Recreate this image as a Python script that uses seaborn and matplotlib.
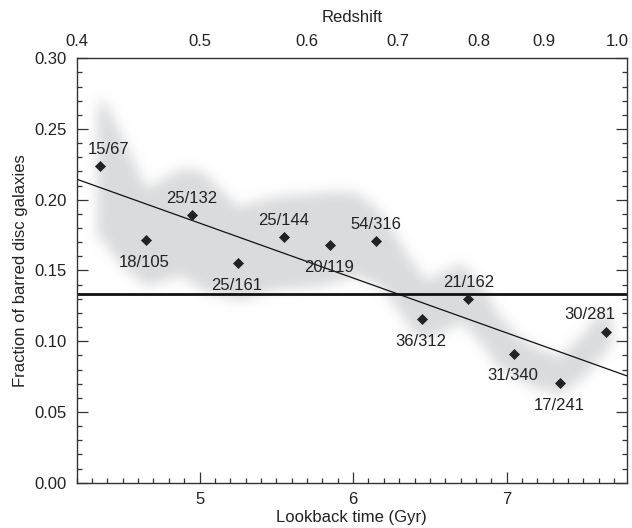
import numpy as np
import pandas as pd
import matplotlib
matplotlib.use("Agg")
import matplotlib.pyplot as plt
from matplotlib.ticker import MultipleLocator, FormatStrFormatter
import seaborn as sns

# ---- data ----
lookback = [4.35, 4.65, 4.95, 5.25, 5.55, 5.85, 6.15, 6.45, 6.75, 7.05, 7.35, 7.65]
n_barred = [15, 18, 25, 25, 25, 20, 54, 36, 21, 31, 17, 30]
n_total = [67, 105, 132, 161, 144, 119, 316, 312, 162, 340, 241, 281]

# linear trend
trend_intercept = 0.3775
trend_slope = -0.0388

# shaded band envelope
band_x = [4.33, 4.36, 4.49, 4.65, 4.88, 5.02, 5.25, 5.48, 5.80, 6.02, 6.14, 6.20,
          6.32, 6.39, 6.48, 6.71, 6.84, 6.94, 7.05, 7.16, 7.35, 7.51, 7.64, 7.69]
band_hi = [0.262, 0.273, 0.245, 0.208, 0.222, 0.220, 0.195, 0.202, 0.205, 0.205, 0.195, 0.188,
           0.167, 0.155, 0.143, 0.155, 0.139, 0.120, 0.106, 0.097, 0.089, 0.106, 0.124, 0.118]
band_lo = [0.175, 0.172, 0.153, 0.139, 0.146, 0.136, 0.129, 0.136, 0.139, 0.146, 0.140, 0.136,
           0.118, 0.106, 0.101, 0.113, 0.098, 0.082, 0.075, 0.068, 0.062, 0.075, 0.092, 0.098]

# top axis: redshift labels at lookback-time positions
redshift_labels = ["0.4", "0.5", "0.6", "0.7", "0.8", "0.9", "1.0"]
redshift_pos = [4.20, 5.00, 5.70, 6.293, 6.82, 7.24, 7.72]

# label placement (above / below point)
label_side = ["upright", "down", "up", "down", "up", "down", "up", "down", "up", "down", "down", "upleft"]

# ---- derived ----
frac = [b / t for b, t in zip(n_barred, n_total)]
overall = sum(n_barred) / sum(n_total)
labels = [f"{b}/{t}" for b, t in zip(n_barred, n_total)]
df = pd.DataFrame({"t": lookback, "f": frac, "label": labels})

sns.set_theme(style="ticks")
plt.rcParams["font.family"] = ["Liberation Sans", "DejaVu Sans"]
plt.rcParams["text.color"] = "#222222"

fig = plt.figure(figsize=(6.32, 5.28), dpi=100)
ax = fig.add_axes([0.1214, 0.0858, 0.9916 - 0.1214, 0.8896 - 0.0858])

xlim = (4.2, 7.782)
ylim = (0, 0.30)
ax.set_xlim(*xlim)
ax.set_ylim(*ylim)

# blurred band: rasterised mask of the envelope, gaussian-smoothed
nx, ny = 550, 424
gx = np.linspace(xlim[0], xlim[1], nx)
gy = np.linspace(ylim[0], ylim[1], ny)
hi = np.interp(gx, band_x, band_hi)
lo = np.interp(gx, band_x, band_lo)
inside = (gx >= band_x[0]) & (gx <= band_x[-1])
mask = ((gy[:, None] >= lo[None, :]) & (gy[:, None] <= hi[None, :]) & inside[None, :]).astype(float)
sig = 6.0
k = np.arange(-int(4 * sig), int(4 * sig) + 1)
kern = np.exp(-0.5 * (k / sig) ** 2)
kern /= kern.sum()
mask = np.apply_along_axis(lambda r: np.convolve(r, kern, mode="same"), 1, mask)
mask = np.apply_along_axis(lambda c: np.convolve(c, kern, mode="same"), 0, mask)
rgba = np.zeros((ny, nx, 4))
rgba[..., 0] = 0.855
rgba[..., 1] = 0.859
rgba[..., 2] = 0.867
rgba[..., 3] = np.clip(mask, 0, 1)
ax.imshow(rgba, extent=(xlim[0], xlim[1], ylim[0], ylim[1]), origin="lower",
          aspect="auto", interpolation="bilinear", zorder=1)

# overall fraction line
ax.axhline(overall, color="#111111", lw=2.0, zorder=2)

# trend line
tx = np.array(xlim)
ax.plot(tx, trend_intercept + trend_slope * tx, color="#111111", lw=0.9, zorder=3)

# points
sns.scatterplot(data=df, x="t", y="f", marker="D", s=26, color="#222222",
                edgecolor="#222222", linewidth=0.5, ax=ax, zorder=4)

offs = {"up": (0, 12), "upright": (6, 12), "down": (-1, -16), "upleft": (-12, 12)}
for (_, r), side in zip(df.iterrows(), label_side):
    dx, dy = offs[side]
    ax.annotate(r["label"], (r["t"], r["f"]), xytext=(dx, dy), textcoords="offset points",
                ha="center", va="center", fontsize=12, color="#222222", zorder=5)

ax.xaxis.set_major_locator(MultipleLocator(1))
ax.xaxis.set_minor_locator(MultipleLocator(0.1))
ax.yaxis.set_major_locator(MultipleLocator(0.05))
ax.yaxis.set_minor_locator(MultipleLocator(0.01))
ax.yaxis.set_major_formatter(FormatStrFormatter("%.2f"))
ax.tick_params(which="both", direction="in", top=True, right=True, color="#333333",
               labelsize=12, labelcolor="#222222", width=0.9)
ax.tick_params(which="major", length=8, pad=7)
ax.tick_params(which="minor", length=3.8)
for s in ax.spines.values():
    s.set_color("#333333")
    s.set_linewidth(1.0)

ax.set_xlabel("Lookback time (Gyr)", fontsize=12, labelpad=2, color="#222222")
ax.set_ylabel("Fraction of barred disc galaxies", fontsize=12, labelpad=5, color="#222222")

ax2 = ax.twiny()
ax2.set_xlim(*xlim)
ax2.set_xticks(redshift_pos)
ax2.set_xticklabels(redshift_labels)
ax2.xaxis.set_minor_locator(plt.NullLocator())
ax2.tick_params(axis="x", length=0, pad=7, labelsize=12, labelcolor="#222222")
for s in ax2.spines.values():
    s.set_visible(False)
ax2.set_xlabel("Redshift", fontsize=12, labelpad=8, color="#222222")

fig.savefig("out.png", dpi=100)
